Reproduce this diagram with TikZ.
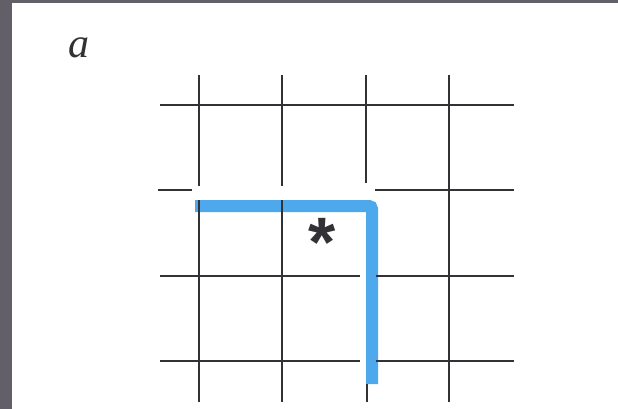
\documentclass[tikz,border=0pt]{standalone}
\usepackage{fontspec}
\setmainfont{Liberation Serif}
\newfontfamily\starfont{Liberation Sans}
\definecolor{framegray}{RGB}{98,95,105}
\definecolor{pathblue}{RGB}{78,168,236}
\definecolor{gridink}{RGB}{50,50,54}
\begin{document}
\begin{tikzpicture}[x=1pt,y=-1pt,
  gridline/.style={draw=gridink,line width=1.6pt},
  bluepath/.style={draw=pathblue,line width=12pt,rounded corners=3pt},
  lbl/.style={inner sep=0pt,text=gridink,font=\fontsize{42}{42}\selectfont\itshape},
  starlbl/.style={inner sep=0pt,text=gridink,font=\starfont\bfseries\fontsize{70}{70}\selectfont}]
\useasboundingbox (0,0) rectangle (618,409);
\fill[framegray] (0,0) rectangle (618,409);
\fill[white] (12,3) rectangle (618,409);
% label
\node[lbl] (lab) at (79,48) {a};
% blue path
\coordinate (b1) at (195,206);
\coordinate (b2) at (372,206);
\coordinate (b3) at (372,384);
\draw[bluepath] (b1) -- (b2) -- (b3);
% horizontal lines
\draw[gridline] (160,105) -- (514,105);
\draw[gridline] (158,190) -- (192,190);
\draw[gridline] (375,190) -- (514,190);
\draw[gridline] (160,276) -- (360,276);
\draw[gridline] (376,276) -- (514,276);
\draw[gridline] (160,361) -- (360,361);
\draw[gridline] (376,361) -- (514,361);
% vertical lines
\draw[gridline] (199,75) -- (199,186);
\draw[gridline] (199,200) -- (199,402);
\draw[gridline] (282,75) -- (282,186);
\draw[gridline] (282,200) -- (282,402);
\draw[gridline] (366,75) -- (366,183);
\draw[gridline] (367,384) -- (367,402);
\draw[gridline] (449,75) -- (449,402);
% star
\node[starlbl] (star) at (322,242) {*};
\end{tikzpicture}
\end{document}
